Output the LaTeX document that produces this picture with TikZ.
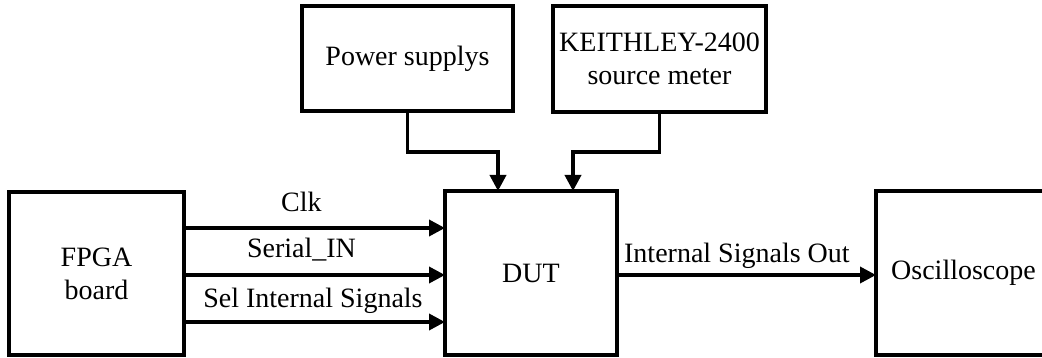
\documentclass[tikz,border=0pt]{standalone}
\usepackage{fontspec}
\setmainfont{Liberation Serif}
\usetikzlibrary{arrows.meta}
\begin{document}
\begin{tikzpicture}[x=1pt,y=-1pt,
  blk/.style={draw, line width=3.4pt, inner sep=0pt, outer sep=0pt, align=center,
              font=\fontsize{28}{33}\selectfont},
  sig/.style={line width=3.6pt, -{Triangle[length=16pt,width=16pt]}},
  lbl/.style={anchor=base, inner sep=0pt, font=\fontsize{28}{33}\selectfont}]
  \useasboundingbox (0,0) rectangle (1042,358);

  % blocks
  \node[blk, minimum width=175pt, minimum height=163pt] (fpga) at (96.5,273.5) {FPGA\\board};
  \node[blk, minimum width=172pt, minimum height=164pt] (dut) at (531,273) {DUT};
  \node[blk, minimum width=175pt, minimum height=164pt] (osc) at (963.5,273) {Oscilloscope};
  \node[blk, minimum width=211pt, minimum height=105pt] (power) at (407.5,58.5) {Power supplys};
  \node[blk, minimum width=213pt, minimum height=106pt] (keith) at (659.5,59) {KEITHLEY-2400\\source meter};

  % FPGA to DUT signals
  \draw[sig] ([yshift=45.5pt]fpga.east) -- ([yshift=45.5pt]fpga.east -| dut.west)
    node[lbl, pos=0.45, yshift=16pt] {Clk};
  \draw[sig] ([yshift=-1.5pt]fpga.east) -- ([yshift=-1.5pt]fpga.east -| dut.west)
    node[lbl, pos=0.45, yshift=17pt] {Serial\_IN};
  \draw[sig] ([yshift=-48.5pt]fpga.east) -- ([yshift=-48.5pt]fpga.east -| dut.west)
    node[lbl, pos=0.494, yshift=15pt] {Sel Internal Signals};

  % DUT to oscilloscope
  \draw[sig] ([yshift=-2pt]dut.east) -- ([yshift=-2pt]dut.east -| osc.west)
    node[lbl, pos=0.463, yshift=13pt] {Internal Signals Out};

  % supplies into DUT
  \draw[sig] (power.south) -- ++(0,41) -| ([xshift=-33pt]dut.north);
  \draw[sig] (keith.south) -- ++(0,40) -| ([xshift=42pt]dut.north);
\end{tikzpicture}
\end{document}
